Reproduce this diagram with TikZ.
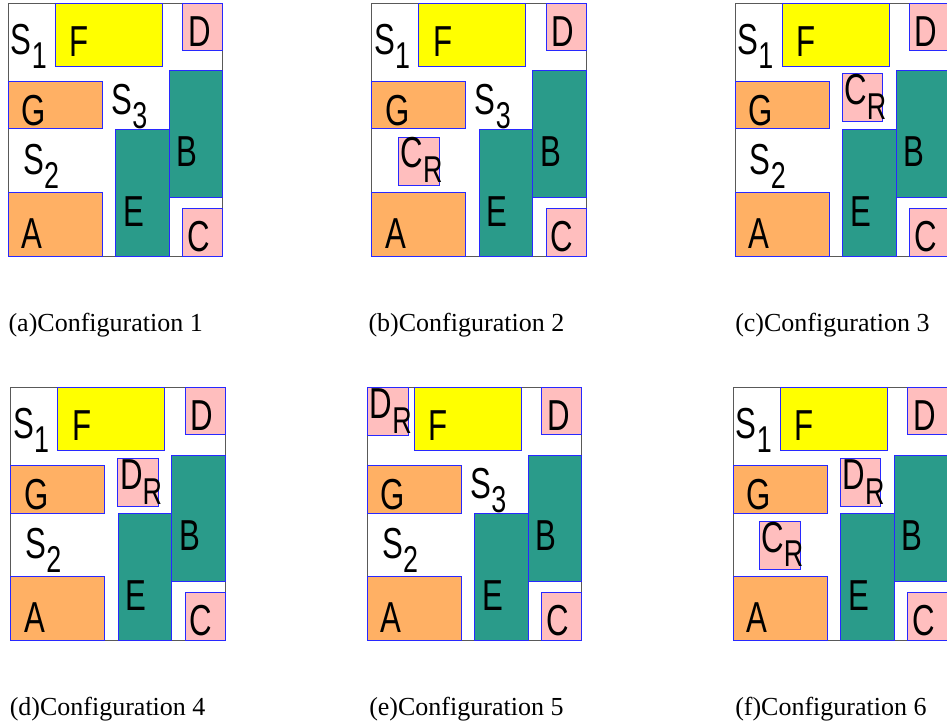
\documentclass[tikz,border=0pt]{standalone}
\usepackage{fontspec}
\setmainfont{Liberation Serif}
\newfontfamily\blockfont[FakeStretch=0.72]{Liberation Sans}

\definecolor{blockyellow}{RGB}{255,255,0}
\definecolor{blockorange}{RGB}{255,176,100}
\definecolor{blockteal}{RGB}{42,155,138}
\definecolor{blockpink}{RGB}{255,190,190}
\definecolor{blockedge}{RGB}{40,40,255}

\newcommand{\sublabel}[2]{#1\raisebox{-11pt}{\fontsize{28pt}{28pt}\selectfont #2}}

\newcommand{\roomlayout}[1]{
    \draw[room frame] (0,0) rectangle (214.5,252.7);
    \draw[yellow block] (47,0) rectangle (154,63);
    \draw[pink block] (174.5,0) rectangle (214.5,47);
    \draw[orange block] (0,78.5) rectangle (94,125.7);
    \draw[teal block] (161,67.7) rectangle (214.5,194);
    \draw[teal block] (107.5,126) rectangle (161,252.7);
    \draw[orange block] (0,189.5) rectangle (94,252.7);
    \draw[pink block] (174.5,205) rectangle (214.5,252.7);
    \node[block letter] (#1-F) at (71,53.5) {F};
    \node[block letter] (#1-D) at (191,43) {D};
    \node[block letter] (#1-G) at (25.5,122.5) {G};
    \node[block letter] (#1-B) at (179,163) {B};
    \node[block letter] (#1-E) at (125.5,223) {E};
    \node[block letter] (#1-A) at (24,245) {A};
    \node[block letter] (#1-C) at (190.5,248.5) {C};
}

\begin{document}
\begin{tikzpicture}[
    x=0.75pt, y=-0.75pt,
    room frame/.style={
      draw=gray!70!black,
      line width=0.75pt
    },
    yellow block/.style={
      fill=blockyellow,
      draw=blockedge,
      line width=0.75pt
    },
    orange block/.style={
      fill=blockorange,
      draw=blockedge,
      line width=0.75pt
    },
    teal block/.style={
      fill=blockteal,
      draw=blockedge,
      line width=0.75pt
    },
    pink block/.style={
      fill=blockpink,
      draw=blockedge,
      line width=0.75pt
    },
    block letter/.style={
      anchor=base,
      inner sep=0pt,
      font=\blockfont\fontsize{32.5pt}{32.5pt}\selectfont
    },
    space label/.style={
      anchor=base west,
      inner sep=0pt,
      font=\blockfont\fontsize{32.5pt}{32.5pt}\selectfont
    },
    caption text/.style={
      anchor=base west,
      inner sep=0pt,
      font=\fontsize{19.5pt}{22pt}\selectfont
    }
  ]

    \clip (0,0) rectangle (947,724);

    \begin{scope}[shift={(8.3,3.3)}]
      \roomlayout{a}
      \node[space label] (a-S1) at (2.4,51) {\sublabel{S}{1}};
      \node[space label] (a-S3) at (103,111) {\sublabel{S}{3}};
      \node[space label] (a-S2) at (14.7,171) {\sublabel{S}{2}};
    \end{scope}

    \begin{scope}[shift={(371.7,3.3)}]
      \roomlayout{b}
      \node[space label] (b-S1) at (2.4,51) {\sublabel{S}{1}};
      \node[space label] (b-S3) at (103,111) {\sublabel{S}{3}};
      \draw[pink block] (26.7,134) rectangle (67.3,181.7);
      \node[space label] (b-CR) at (28.5,164.5) {\sublabel{C}{R}};
    \end{scope}

    \begin{scope}[shift={(735,3.3)}]
      \roomlayout{c}
      \node[space label] (c-S1) at (2.4,51) {\sublabel{S}{1}};
      \node[space label] (c-S2) at (14.7,171) {\sublabel{S}{2}};
      \draw[pink block] (107.3,70.7) rectangle (147.3,118.3);
      \node[space label] (c-CR) at (109.1,101.2) {\sublabel{C}{R}};
    \end{scope}

    \begin{scope}[shift={(10.7,387.3)}]
      \roomlayout{d}
      \node[space label] (d-S1) at (2.4,51) {\sublabel{S}{1}};
      \node[space label] (d-S2) at (14.7,171) {\sublabel{S}{2}};
      \draw[pink block] (107,71.3) rectangle (147.3,118.7);
      \node[space label] (d-DR) at (109.2,102.5) {\sublabel{D}{R}};
    \end{scope}

    \begin{scope}[shift={(367.3,387.3)}]
      \roomlayout{e}
      \node[space label] (e-S3) at (103,111) {\sublabel{S}{3}};
      \node[space label] (e-S2) at (14.7,171) {\sublabel{S}{2}};
      \draw[pink block] (0,0) rectangle (41,47.7);
      \node[space label] (e-DR) at (2.2,31.2) {\sublabel{D}{R}};
    \end{scope}

    \begin{scope}[shift={(733.3,387.3)}]
      \roomlayout{f}
      \node[space label] (f-S1) at (2.4,51) {\sublabel{S}{1}};
      \draw[pink block] (106.7,71.3) rectangle (147,118.7);
      \node[space label] (f-DR) at (108.9,102.5) {\sublabel{D}{R}};
      \draw[pink block] (26,134.3) rectangle (66.7,182);
      \node[space label] (f-CR) at (27.8,165) {\sublabel{C}{R}};
    \end{scope}

    \node[caption text] (cap-a) at (8.3,331.7) {(a)Configuration 1};
    \node[caption text] (cap-b) at (368.3,331.7) {(b)Configuration 2};
    \node[caption text] (cap-c) at (735,331.7) {(c)Configuration 3};
    \node[caption text] (cap-d) at (9.5,715.7) {(d)Configuration 4};
    \node[caption text] (cap-e) at (369,715.7) {(e)Configuration 5};
    \node[caption text] (cap-f) at (735,715.7) {(f)Configuration 6};

  \end{tikzpicture}
\end{document}
